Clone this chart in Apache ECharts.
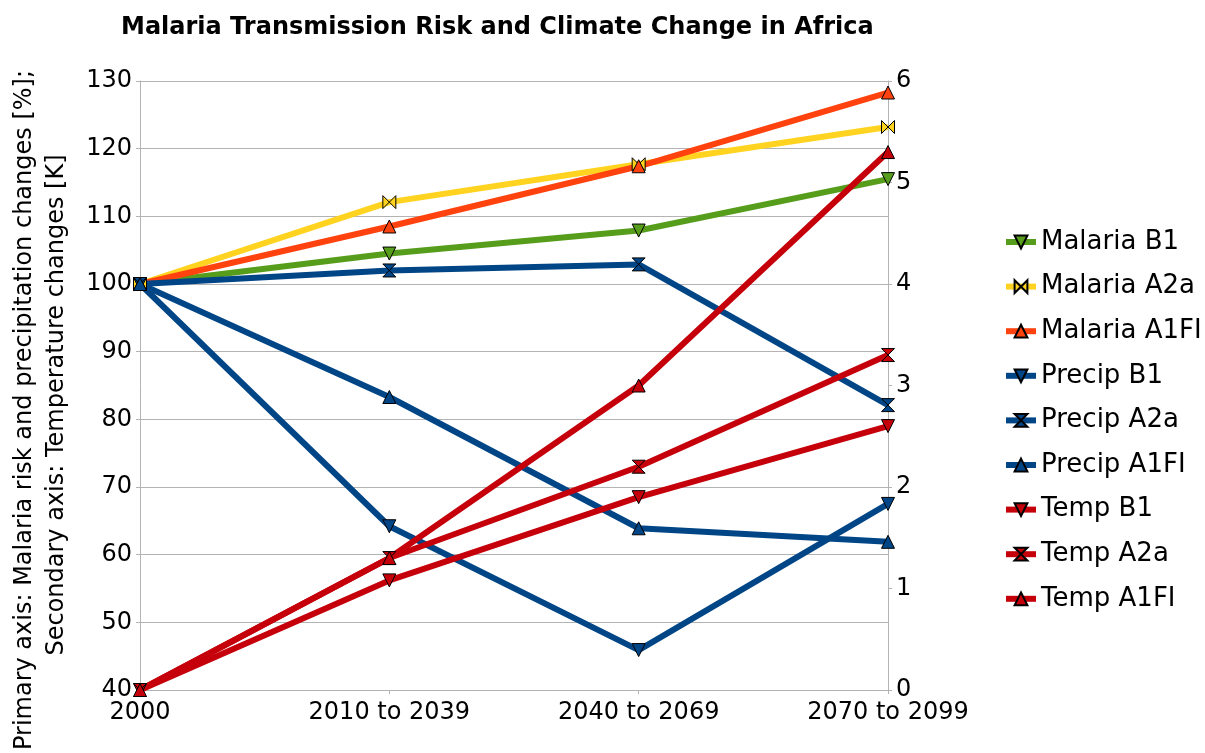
<!DOCTYPE html>
<html>
<head>
<meta charset="utf-8">
<script src="https://cdn.jsdelivr.net/npm/echarts@6/dist/echarts.min.js"></script>
<style>html,body{margin:0;padding:0;background:#fff}#c{width:1205px;height:753px}</style>
</head>
<body>
<div id="c"></div>
<script>
const categories = ['2000', '2010 to 2039', '2040 to 2069', '2070 to 2099'];
const malariaB1 = [100, 104.5, 107.9, 115.5];
const malariaA2a = [100, 112.1, 117.7, 123.2];
const malariaA1FI = [100, 108.5, 117.4, 128.3];
const precipB1 = [100, 64.2, 45.9, 67.5];
const precipA2a = [100, 102, 102.9, 82.1];
const precipA1FI = [100, 83.3, 63.9, 61.9];
const tempB1 = [0, 1.08, 1.9, 2.6];
const tempA2a = [0, 1.3, 2.2, 3.3];
const tempA1FI = [0, 1.3, 3.0, 5.3];
const primaryTicks = [40, 130, 10];
const secondaryTicks = [0, 6, 1];

const FONT = 'DejaVu Sans';
const GRID = '#b3b3b3';
const SYM = {
  down: 'path://M0,0 L10,0 L5,10 Z',
  up: 'path://M5,0 L10,10 L0,10 Z',
  bowH: 'path://M0,0 L0,10 L10,0 L10,10 Z',
  bowV: 'path://M0,0 L10,0 L0,10 L10,10 Z'
};
function s(name, data, color, sym, axis) {
  return {
    name, type: 'line', data, yAxisIndex: axis,
    symbol: SYM[sym], symbolSize: 13,
    lineStyle: { color, width: 6 },
    itemStyle: { color, borderColor: '#000', borderWidth: 1 },
    animation: false
  };
}
const chart = echarts.init(document.getElementById('c'), null, { renderer: 'canvas' });
chart.setOption({
  animation: false,
  textStyle: { fontFamily: FONT },
  grid: { left: 140, right: 317, top: 81, bottom: 63 },
  graphic: [
    { type: 'text', left: 121, top: 16, style: { text: 'Malaria Transmission Risk and Climate Change in Africa', font: 'bold 24px "DejaVu Sans"', fill: '#000' } },
    { type: 'text', x: 25, y: 410, rotation: Math.PI / 2, style: { text: 'Primary axis: Malaria risk and precipitation changes [%];', font: '24px "DejaVu Sans"', fill: '#000', textAlign: 'center', textVerticalAlign: 'middle' } },
    { type: 'text', x: 57, y: 405, rotation: Math.PI / 2, style: { text: 'Secondary axis: Temperature changes [K]', font: '24px "DejaVu Sans"', fill: '#000', textAlign: 'center', textVerticalAlign: 'middle' } }
  ],
  legend: {
    orient: 'vertical', left: 1003, top: 229, padding: 0,
    itemWidth: 30, itemHeight: 16, itemGap: 18.6,
    lineStyle: { width: 6 },
    textStyle: { fontSize: 26, lineHeight: 26, color: '#000', fontFamily: FONT },
    data: ['Malaria B1', 'Malaria A2a', 'Malaria A1FI', 'Precip B1', 'Precip A2a', 'Precip A1FI', 'Temp B1', 'Temp A2a', 'Temp A1FI']
  },
  xAxis: {
    type: 'category', data: categories, boundaryGap: false,
    axisLine: { lineStyle: { color: GRID, width: 1 } },
    axisTick: { show: true, length: 4, lineStyle: { color: GRID } },
    axisLabel: { fontSize: 24, color: '#000', margin: 11, fontFamily: FONT },
    splitLine: { show: false }
  },
  yAxis: [
    {
      type: 'value', min: primaryTicks[0], max: primaryTicks[1], interval: primaryTicks[2],
      axisLine: { show: true, lineStyle: { color: GRID } },
      axisTick: { show: true, length: 4, lineStyle: { color: GRID } },
      axisLabel: { fontSize: 24, color: '#000', margin: 8, fontFamily: FONT },
      splitLine: { show: true, lineStyle: { color: GRID, width: 1 } }
    },
    {
      type: 'value', min: secondaryTicks[0], max: secondaryTicks[1], interval: secondaryTicks[2], position: 'right',
      axisLine: { show: true, lineStyle: { color: GRID } },
      axisTick: { show: true, length: 4, lineStyle: { color: GRID } },
      axisLabel: { fontSize: 24, color: '#000', margin: 8, fontFamily: FONT },
      splitLine: { show: false }
    }
  ],
  series: [
    s('Malaria B1', malariaB1, '#579d1c', 'down', 0),
    s('Malaria A2a', malariaA2a, '#ffd320', 'bowH', 0),
    s('Malaria A1FI', malariaA1FI, '#ff420e', 'up', 0),
    s('Precip B1', precipB1, '#004586', 'down', 0),
    s('Precip A2a', precipA2a, '#004586', 'bowV', 0),
    s('Precip A1FI', precipA1FI, '#004586', 'up', 0),
    s('Temp B1', tempB1, '#c5000b', 'down', 1),
    s('Temp A2a', tempA2a, '#c5000b', 'bowV', 1),
    s('Temp A1FI', tempA1FI, '#c5000b', 'up', 1)
  ]
});
</script>
</body>
</html>
